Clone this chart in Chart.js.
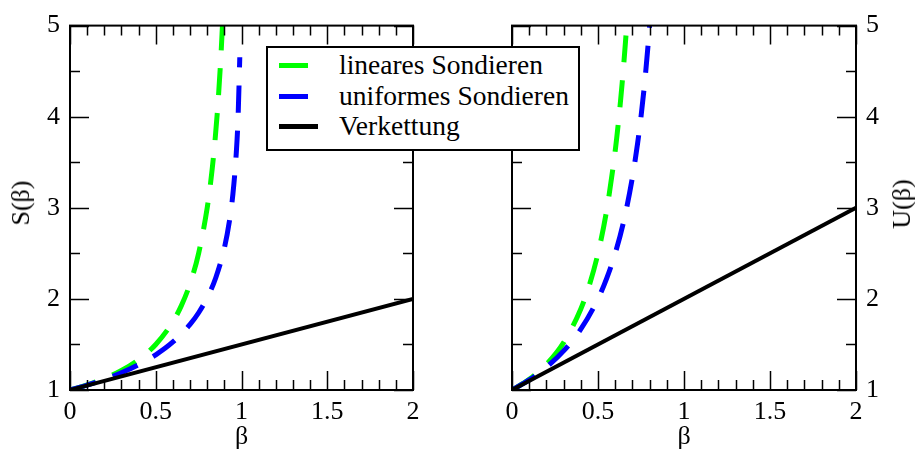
<!DOCTYPE html>
<html>
<head>
<meta charset="utf-8">
<script src="https://cdn.jsdelivr.net/npm/chart.js@4.4.0/dist/chart.umd.min.js"></script>
<style>
  html, body { margin: 0; padding: 0; background: #fff; }
  #wrap { position: relative; width: 915px; height: 455px; overflow: hidden;
          font-family: "Liberation Serif", "Times New Roman", serif; color: #000; }
  canvas { position: absolute; top: 0; }
  #cLeft { left: 0; }
  #cRight { left: 440px; }
  .ytitle { position: absolute; font-family: "Liberation Serif", serif; font-size: 26px; line-height: 26px;
            white-space: nowrap; transform: translate(-50%, -50%) rotate(-90deg); }
  .legend { position: absolute; left: 266px; top: 46px; width: 310px; height: 101px;
            border: 2px solid #000; background: #fff; }
  .row { position: absolute; left: 0; height: 30px; width: 100%; }
  .sample { position: absolute; left: 11px; top: 13px; width: 39px; height: 5px; }
  .label { position: absolute; left: 71px; top: 0; font-family: "Liberation Serif", serif;
           font-size: 27.5px; line-height: 30px; white-space: nowrap; }
</style>
</head>
<body>
<div id="wrap">
  <canvas id="cLeft" width="440" height="455"></canvas>
  <canvas id="cRight" width="475" height="455"></canvas>
  <div class="ytitle" style="left:21px; top:203px;">S(β)</div>
  <div class="ytitle" style="left:902px; top:204px;">U(β)</div>
  <div class="legend" id="legend"></div>
</div>
<script>
// ---- data ----
// left panel: S(beta)
const betaLinS  = [0, 0.1, 0.2, 0.3, 0.4, 0.5, 0.6, 0.65, 0.7, 0.75, 0.8, 0.82, 0.84, 0.86, 0.88, 0.89];
const linS      = [1, 1.056, 1.125, 1.214, 1.333, 1.5, 1.75, 1.929, 2.167, 2.5, 3, 3.278, 3.625, 4.071, 4.667, 5.045];
const betaUniS  = [0, 0.1, 0.2, 0.3, 0.4, 0.5, 0.6, 0.7, 0.75, 0.8, 0.85, 0.9, 0.93, 0.95, 0.97, 0.98, 0.99];
const uniS      = [1, 1.054, 1.116, 1.189, 1.277, 1.386, 1.527, 1.72, 1.848, 2.012, 2.232, 2.558, 2.859, 3.153, 3.615, 3.992, 4.652];
const betaChain = [0, 2];
const chainS    = [1, 2];
// right panel: U(beta)
const betaLinU  = [0, 0.1, 0.2, 0.3, 0.4, 0.45, 0.5, 0.55, 0.6, 0.62, 0.64, 0.66, 0.67];
const linU      = [1, 1.117, 1.281, 1.52, 1.889, 2.153, 2.5, 2.969, 3.625, 3.963, 4.358, 4.825, 5.091];
const betaUniU  = [0, 0.1, 0.2, 0.3, 0.4, 0.5, 0.55, 0.6, 0.65, 0.7, 0.73, 0.75, 0.77, 0.79, 0.8];
const uniU      = [1, 1.111, 1.25, 1.429, 1.667, 2, 2.222, 2.5, 2.857, 3.333, 3.704, 4, 4.348, 4.762, 5];
const chainU    = [1, 3];

const xTicks = [0, 0.5, 1, 1.5, 2];
const yTicks = [1, 2, 3, 4, 5];
const seriesNames = ['lineares Sondieren', 'uniformes Sondieren', 'Verkettung'];

const COLORS = ['#00ff00', '#0000ff', '#000000'];
const DASH = [27, 18];
const FONT = { family: "'Liberation Serif', 'Times New Roman', serif", size: 26 };

Chart.defaults.color = '#000';

const pts = (xs, ys) => xs.map((x, i) => ({ x, y: ys[i] }));

// frame + inward major/minor ticks on all four sides
const frameTicks = {
  id: 'frameTicks',
  afterDatasetsDraw(chart) {
    const { ctx, chartArea: a, scales: { x, y } } = chart;
    ctx.save();
    ctx.strokeStyle = '#000';
    ctx.lineWidth = 1.5;
    ctx.beginPath();
    for (let i = 0; i <= 20; i++) {
      const v = x.min + i * 0.1;
      const px = Math.round(x.getPixelForValue(v)) + 0.5;
      const len = i % 5 === 0 ? 19 : 10;
      ctx.moveTo(px, a.bottom); ctx.lineTo(px, a.bottom - len);
      ctx.moveTo(px, a.top); ctx.lineTo(px, a.top + len);
    }
    for (let i = 0; i <= 8; i++) {
      const v = y.min + i * 0.5;
      const py = Math.round(y.getPixelForValue(v)) + 0.5;
      const len = i % 2 === 0 ? 19 : 10;
      ctx.moveTo(a.left, py); ctx.lineTo(a.left + len, py);
      ctx.moveTo(a.right, py); ctx.lineTo(a.right - len, py);
    }
    ctx.stroke();
    ctx.lineWidth = 2;
    ctx.strokeRect(a.left, a.top, a.right - a.left, a.bottom - a.top);
    ctx.restore();
  }
};

function makeDatasets(lin, uni, chain) {
  return [
    { label: seriesNames[0], data: lin, borderColor: COLORS[0], borderWidth: 5, borderDash: DASH, order: 2 },
    { label: seriesNames[1], data: uni, borderColor: COLORS[1], borderWidth: 5, borderDash: DASH, order: 1 },
    { label: seriesNames[2], data: chain, borderColor: COLORS[2], borderWidth: 4, order: 0 },
  ].map(ds => ({ ...ds, pointRadius: 0, fill: false, cubicInterpolationMode: 'monotone', clip: 0 }));
}

function makeOptions(yPos, padding) {
  return {
    responsive: false,
    animation: false,
    layout: { padding },
    plugins: { legend: { display: false }, tooltip: { enabled: false } },
    scales: {
      x: {
        type: 'linear', min: 0, max: 2,
        afterBuildTicks: s => { s.ticks = xTicks.map(v => ({ value: v })); },
        afterFit: s => { s.height = 65; },
        grid: { display: false, drawTicks: false },
        border: { display: false },
        ticks: { padding: 7, maxRotation: 0, autoSkip: false, font: FONT, color: '#000',
                 callback: v => String(v) },
        title: { display: true, text: 'β', font: FONT, color: '#000', padding: { top: 0, bottom: 2 } },
      },
      y: {
        type: 'linear', min: 1, max: 5, position: yPos,
        afterBuildTicks: s => { s.ticks = yTicks.map(v => ({ value: v })); },
        afterFit: s => { s.width = yPos === 'left' ? 70 : 59; },
        grid: { display: false, drawTicks: false },
        border: { display: false },
        ticks: { padding: 10, font: FONT, color: '#000', callback: v => String(v) },
      },
    },
  };
}

new Chart(document.getElementById('cLeft'), {
  type: 'line',
  data: { datasets: makeDatasets(pts(betaLinS, linS), pts(betaUniS, uniS), pts(betaChain, chainS)) },
  options: makeOptions('left', { top: 17, right: 27, left: 0, bottom: 0 }),
  plugins: [frameTicks],
});

new Chart(document.getElementById('cRight'), {
  type: 'line',
  data: { datasets: makeDatasets(pts(betaLinU, linU), pts(betaUniU, uniU), pts(betaChain, chainU)) },
  options: makeOptions('right', { top: 17, right: 0, left: 72, bottom: 0 }),
  plugins: [frameTicks],
});

// legend (HTML, spans both panels)
const legend = document.getElementById('legend');
seriesNames.forEach((name, i) => {
  const row = document.createElement('div');
  row.className = 'row';
  row.style.top = (2 + i * 30.5) + 'px';
  const s = document.createElement('div');
  s.className = 'sample';
  s.style.background = i < 2
    ? `linear-gradient(to right, ${COLORS[i]} 0 29px, transparent 29px)`
    : COLORS[i];
  const t = document.createElement('div');
  t.className = 'label';
  t.textContent = name;
  row.appendChild(s);
  row.appendChild(t);
  legend.appendChild(row);
});
</script>
</body>
</html>
